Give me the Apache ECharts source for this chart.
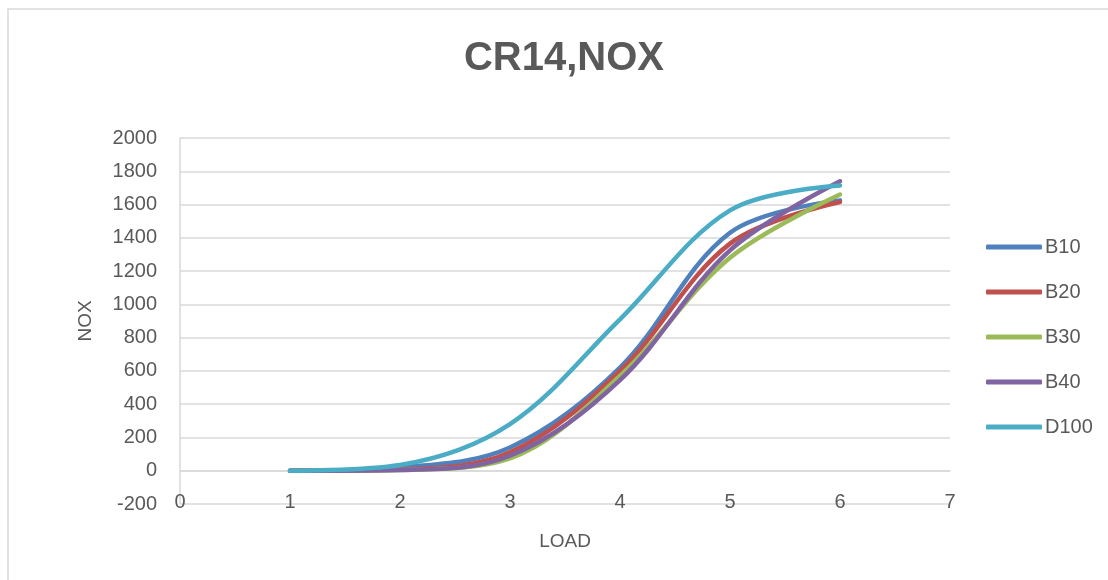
<!DOCTYPE html>
<html>
<head>
<meta charset="utf-8">
<script src="https://cdn.jsdelivr.net/npm/echarts@6/dist/echarts.min.js"></script>
<style>
  html, body { margin: 0; padding: 0; background: #ffffff; }
  #chart { width: 1108px; height: 580px; }
</style>
</head>
<body>
<div id="chart"></div>
<script>
// Engine load (x) and NOx readings per blend
const loads = [1, 2, 3, 4, 5, 6];
const seriesNames = ['B10', 'B20', 'B30', 'B40', 'D100'];
const b10  = [0, 20, 140, 620, 1430, 1625];
const b20  = [0, 8, 110, 600, 1365, 1615];
const b30  = [0, 5, 75, 570, 1280, 1660];
const b40  = [0, 5, 90, 545, 1325, 1740];
const d100 = [0, 35, 280, 910, 1565, 1715];
const colors = ['#4f81bd', '#c0504d', '#9bbb59', '#8064a2', '#4bacc6'];

const values = [b10, b20, b30, b40, d100];
const textColor = '#595959';
const gridColor = '#d9d9d9';
const labelFont = 20;

const chart = echarts.init(document.getElementById('chart'));

chart.setOption({
  animation: false,
  backgroundColor: '#ffffff',
  title: {
    text: 'CR14,NOX',
    left: 559,
    top: 34,
    textAlign: 'center',
    textStyle: {
      fontFamily: 'Liberation Sans',
      fontWeight: 'bold',
      fontSize: 40,
      color: textColor
    }
  },
  graphic: [{
    type: 'rect',
    shape: { x: 8, y: 9, width: 1110, height: 590 },
    style: { fill: 'none', stroke: gridColor, lineWidth: 1.5 },
    silent: true
  }],
  legend: {
    orient: 'vertical',
    left: 981,
    top: 231,
    itemWidth: 56,
    itemHeight: 5,
    itemGap: 23,
    icon: 'roundRect',
    data: seriesNames,
    textStyle: {
      fontFamily: 'Liberation Sans',
      fontSize: labelFont,
      lineHeight: 22,
      color: textColor,
      padding: [0, 0, 0, -2]
    }
  },
  grid: { left: 180, top: 138, width: 770, height: 366 },
  xAxis: {
    type: 'value',
    min: 0,
    max: 7,
    interval: 1,
    name: 'LOAD',
    nameLocation: 'middle',
    nameGap: 28,
    nameTextStyle: { fontFamily: 'Liberation Sans', fontSize: labelFont - 1, color: textColor },
    axisLine: { show: true, lineStyle: { color: gridColor, width: 1.5 } },
    axisTick: { show: false },
    splitLine: { show: false },
    axisLabel: {
      margin: -2,
      verticalAlign: 'middle',
      fontFamily: 'Liberation Sans',
      fontSize: labelFont,
      color: textColor
    }
  },
  yAxis: {
    type: 'value',
    min: -200,
    max: 2000,
    interval: 200,
    name: 'NOX',
    nameLocation: 'middle',
    nameGap: 85,
    nameTextStyle: { fontFamily: 'Liberation Sans', fontSize: labelFont - 1, color: textColor },
    axisLine: { show: true, onZero: false, lineStyle: { color: gridColor, width: 1.5 } },
    axisTick: { show: false },
    splitLine: { show: true, lineStyle: { color: gridColor, width: 1.5 } },
    axisLabel: {
      margin: 23,
      formatter: (v) => String(v),
      fontFamily: 'Liberation Sans',
      fontSize: labelFont,
      color: textColor
    }
  },
  series: seriesNames.map((name, i) => ({
    name: name,
    type: 'line',
    smooth: 0.35,
    showSymbol: false,
    symbol: 'none',
    lineStyle: { width: 4.5, color: colors[i], cap: 'round' },
    itemStyle: { color: colors[i] },
    data: loads.map((x, j) => [x, values[i][j]])
  }))
});
</script>
</body>
</html>
